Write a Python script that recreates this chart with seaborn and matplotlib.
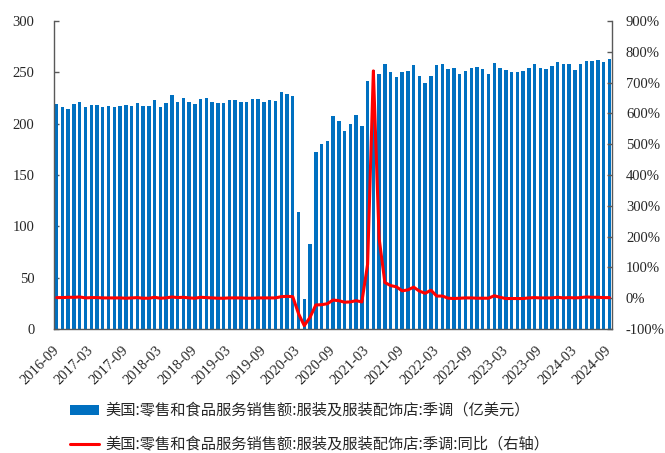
import numpy as np
import pandas as pd
import matplotlib
matplotlib.use("Agg")
import matplotlib.pyplot as plt
from matplotlib.ticker import FixedLocator, FuncFormatter
import seaborn as sns

sns.set_style("white")
plt.rcParams["font.family"] = ["Liberation Serif", "Noto Sans CJK SC"]
plt.rcParams["axes.unicode_minus"] = False

# Monthly series, 2016-09 .. 2024-09
months = pd.period_range("2016-09", "2024-09", freq="M").strftime("%Y-%m").tolist()

sales = [
    218.7, 216.7, 214.5, 219.4, 220.7, 216.7, 218.4, 218.0, 215.8, 217.4, 216.1, 217.4,
    218.4, 217.1, 220.3, 217.4, 217.7, 223.3, 216.4, 220.3, 227.5, 221.6, 224.6, 220.7,
    219.0, 223.6, 224.6, 220.7, 219.7, 219.7, 223.3, 222.6, 220.7, 220.7, 224.2, 223.6,
    221.6, 222.6, 221.9, 231.1, 228.5, 226.5, 114.0, 29.0, 83.0, 172.4, 179.9, 182.8,
    207.0, 202.4, 192.6, 200.0, 208.2, 197.7, 241.6, 252.3, 248.1, 257.8, 250.6, 245.8,
    250.0, 251.3, 257.1, 246.1, 239.6, 246.1, 257.5, 257.8, 252.9, 254.5, 248.7, 251.3,
    254.2, 255.2, 252.9, 248.4, 259.4, 254.5, 252.6, 250.3, 250.6, 251.6, 254.5, 258.1,
    254.5, 253.6, 256.5, 260.4, 258.4, 258.4, 252.0, 257.8, 261.4, 261.4, 261.7, 259.7,
    263.3,
]

yoy = [
    2, 2, 3, 3, 4, 1, 2, 2, 1, 1, 1, 1,
    0, 1, 2, 0, 0, 3, 0, 1, 4, 2, 3, 1,
    0, 3, 2, 1, 0, 0, 1, 1, 1, 0, 0, 1,
    1, 1, 1, 5, 6, 5, -50, -89, -62, -22, -21, -18,
    -6, -8, -13, -12, -8, -12, 110, 738, 194, 51, 41, 37,
    24, 27, 36, 23, 16, 26, 7, 7, 0, -1, 0, 1,
    1, 0, 0, 0, 8, 3, -1, -1, -1, -1, 1, 2,
    1, 1, 1, 3, 1, 2, 1, 2, 4, 3, 3, 2,
    2,
]

bar_label = "美国:零售和食品服务销售额:服装及服装配饰店:季调（亿美元）"
line_label = "美国:零售和食品服务销售额:服装及服装配饰店:季调:同比（右轴）"

df = pd.DataFrame({"month": months, "sales": sales, "yoy": yoy})
df["pos"] = np.arange(len(df))

BLUE = "#0070C0"
RED = "#FF0000"
SPINE = "#595959"

fig = plt.figure(figsize=(6.65, 4.53), dpi=100)
ax = fig.add_axes([0.0812, 0.2737, 0.8391, 0.6799])

sns.barplot(data=df, x="month", y="sales", color=BLUE, saturation=1,
            width=0.6, edgecolor="none", linewidth=0, ax=ax, label=bar_label)

ax2 = ax.twinx()
sns.lineplot(data=df, x="pos", y="yoy", color=RED, linewidth=2.2, ax=ax2,
             label=line_label, legend=False)

ax.set_xlim(-0.47, 96.45)
ax.set_ylim(0, 300)
ax2.set_ylim(-100, 900)
ax2.set_xlim(-0.47, 96.45)

ax.set_xlabel("")
ax.set_ylabel("")
ax2.set_xlabel("")
ax2.set_ylabel("")

# x labels every 6 months, tick marks between categories
lab_pos = list(range(0, len(months), 6))
ax.xaxis.set_major_locator(FixedLocator(lab_pos))
ax.set_xticklabels([months[i] for i in lab_pos], rotation=45, ha="right",
                   va="center", rotation_mode="anchor", fontsize=10.5)
ax.xaxis.set_minor_locator(FixedLocator([p + 5.5 for p in range(0, len(months) - 1, 6)]))
ax.tick_params(axis="x", which="major", length=0, pad=14)
ax.tick_params(axis="x", which="minor", length=3.5, direction="in", color="black", width=1)

ax.set_yticks(range(0, 301, 50))
ax.tick_params(axis="y", direction="in", length=3.5, width=1, color=SPINE,
               labelsize=10.5, pad=14)
ax2.set_yticks(range(-100, 901, 100))
ax2.yaxis.set_major_formatter(FuncFormatter(lambda v, _: f"{int(v)}%"))
ax2.tick_params(axis="y", direction="in", length=3.5, width=1, color=SPINE,
                labelsize=10.5, pad=10)

for a in (ax, ax2):
    a.spines["top"].set_visible(False)
    for s in ("left", "right", "bottom"):
        a.spines[s].set_color(SPINE)
        a.spines[s].set_linewidth(1)
ax.spines["right"].set_visible(False)
ax2.spines["left"].set_visible(False)
ax2.spines["bottom"].set_visible(False)
ax.grid(False)
ax2.grid(False)

h1, l1 = ax.get_legend_handles_labels()
h2, l2 = ax2.get_legend_handles_labels()
if ax.get_legend() is not None:
    ax.get_legend().remove()
fig.legend(h1 + h2, l1 + l2, loc="upper left", bbox_to_anchor=(0.105, 0.112),
           frameon=False, ncol=1, handlelength=1.9,
           handletextpad=0.4, labelspacing=1.1, borderpad=0, borderaxespad=0,
           prop={"family": ["Noto Sans CJK SC"], "size": 11})

fig.savefig("out.png", dpi=100)
